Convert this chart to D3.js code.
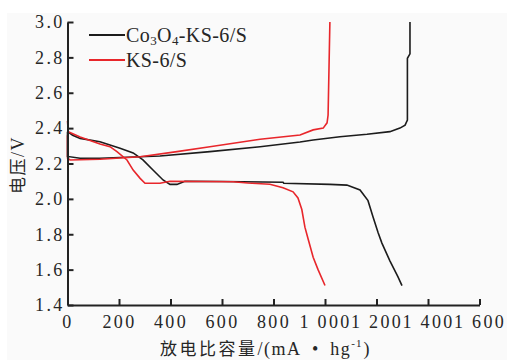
<!DOCTYPE html>
<html><head><meta charset="utf-8">
<script src="https://cdn.jsdelivr.net/npm/d3@7"></script>
<style>
body{margin:0;background:#fff;}
svg{display:block;}
text{font-family:"Liberation Serif","Times New Roman","Noto Serif CJK SC","Noto Sans CJK SC",serif;fill:#262626;}
</style></head>
<body>
<svg id="c" width="507" height="360"></svg>
<script>
// ---- data ----
const xTicks = [0,200,400,600,800,1000,1200,1400,1600];
const yTicks = [1.4,1.6,1.8,2.0,2.2,2.4,2.6,2.8,3.0];
const seriesNames = ["Co3O4-KS-6/S","KS-6/S"];
const seriesColors = ["#1c1c1c","#e8262b"];

const blackDisCap = [0,20,49,126,204,255,293,332,371,398,425,456,600,837,840,1019,1085,1136,1167,1186,1206,1221,1252,1283,1299];
const blackDisV   = [2.38,2.36,2.342,2.323,2.286,2.26,2.22,2.163,2.107,2.082,2.082,2.10,2.098,2.094,2.088,2.082,2.078,2.05,1.99,1.90,1.81,1.75,1.65,1.56,1.51];
const blackChgCap = [0,0,49,126,359,553,748,903,954,1058,1163,1252,1291,1311,1320,1320,1330,1330];
const blackChgV   = [2.38,2.24,2.23,2.23,2.242,2.267,2.295,2.322,2.333,2.351,2.365,2.38,2.40,2.417,2.446,2.795,2.82,3.0];

const redDisCap = [0,3,49,126,165,192,231,255,282,301,359,398,643,700,786,837,876,895,910,922,935,954,973,1000];
const redDisV   = [2.44,2.38,2.35,2.31,2.295,2.267,2.22,2.163,2.116,2.088,2.088,2.10,2.097,2.09,2.083,2.063,2.04,2.005,1.94,1.84,1.77,1.67,1.60,1.51];
const redChgCap = [0,0,10,126,282,425,553,748,903,954,993,1008,1012,1019];
const redChgV   = [2.36,2.23,2.22,2.224,2.238,2.267,2.295,2.337,2.361,2.39,2.40,2.43,2.474,3.0];

// ---- drawing ----
const svg = d3.select("#c");
svg.append("rect").attr("x",7).attr("y",13).attr("width",500).attr("height",347).attr("fill","#fafafa");

const x = d3.scaleLinear().domain([0,1600]).range([67.5,479.5]);
const y = d3.scaleLinear().domain([1.4,3.0]).range([305,22]);

const line = d3.line().x(d=>x(d[0])).y(d=>y(d[1]));
function pts(c,v){return c.map((d,i)=>[d,v[i]]);}
const curves = [
  {p:pts(blackChgCap,blackChgV),c:seriesColors[0]},
  {p:pts(blackDisCap,blackDisV),c:seriesColors[0]},
  {p:pts(redChgCap,redChgV),c:seriesColors[1]},
  {p:pts(redDisCap,redDisV),c:seriesColors[1]}
];
svg.append("g").selectAll("path").data(curves).join("path")
  .attr("d",d=>line(d.p)).attr("fill","none").attr("stroke",d=>d.c)
  .attr("stroke-width",1.6).attr("stroke-linejoin","miter");

const fmtX = v => v>=1000 ? String(v).replace(/^(\d)(\d{3})$/,"$1 $2") : String(v);
const xa = svg.append("g").attr("transform","translate(0,305)")
  .call(d3.axisBottom(x).tickValues(xTicks).tickFormat(fmtX).tickSize(-6).tickSizeOuter(0).tickPadding(10));
const ya = svg.append("g").attr("transform","translate(67.5,0)")
  .call(d3.axisLeft(y).tickValues(yTicks).tickFormat(d3.format(".1f")).tickSize(-6).tickSizeOuter(0).tickPadding(5));
[xa,ya].forEach(a=>{
  a.selectAll(".domain,line").attr("stroke","#222").attr("stroke-width",2);
  a.selectAll("text").attr("font-size",18).attr("letter-spacing","2.3px").attr("fill","#333")
   .style("font-family",'"Liberation Serif",serif');
});
xa.selectAll("text").attr("dy","0.71em");
ya.selectAll("text").attr("dx","2px");

// legend
svg.append("line").attr("x1",89).attr("x2",125).attr("y1",35).attr("y2",35).attr("stroke",seriesColors[0]).attr("stroke-width",1.8);
svg.append("line").attr("x1",89).attr("x2",125).attr("y1",60).attr("y2",60).attr("stroke",seriesColors[1]).attr("stroke-width",1.8);
const t1 = svg.append("text").attr("x",126).attr("y",42).attr("font-size",20).attr("letter-spacing","0.4px");
t1.append("tspan").text("Co");
t1.append("tspan").attr("font-size",13).attr("dy",3).text("3");
t1.append("tspan").attr("dy",-3).text("O");
t1.append("tspan").attr("font-size",13).attr("dy",3).text("4");
t1.append("tspan").attr("dy",-3).text("-KS-6/S");
svg.append("text").attr("x",126).attr("y",67).attr("font-size",20).attr("letter-spacing","0.4px").text(seriesNames[1]);

// axis titles
const xt = svg.append("text").attr("x",160).attr("y",355).attr("font-size",18);
xt.append("tspan").style("font-family",'"Noto Sans CJK SC",sans-serif').attr("font-size",17).attr("letter-spacing","2.5px").text("放电比容量");
xt.append("tspan").attr("letter-spacing","1.5px").text("/(mA\u2002•\u2002hg");
xt.append("tspan").attr("font-size",11).attr("dy",-8).attr("letter-spacing","1px").text("-1");
xt.append("tspan").attr("dy",8).attr("dx",1).text(")");

const yt = svg.append("text").attr("transform","translate(24,165) rotate(-90)").attr("text-anchor","middle").attr("font-size",18).attr("letter-spacing","1.5px");
yt.append("tspan").style("font-family",'"Noto Sans CJK SC",sans-serif').attr("font-size",17).text("电压");
yt.append("tspan").text("/V");
</script>
</body></html>
